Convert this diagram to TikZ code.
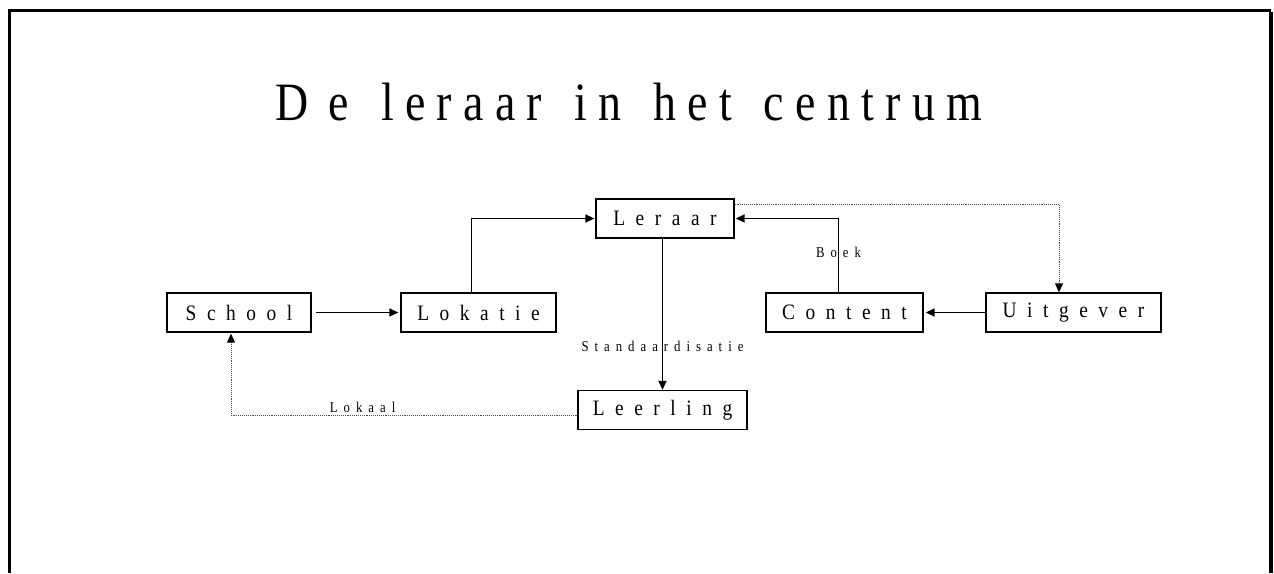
\documentclass[tikz,border=0pt]{standalone}
\usepackage{fontspec}
\setmainfont{Liberation Serif}
\newfontfamily\titelfont[FakeStretch=0.85,LetterSpace=21,WordSpace=1.4]{Liberation Serif}
\newfontfamily\blokfont[FakeStretch=0.88,LetterSpace=48]{Liberation Serif}
\newfontfamily\labelfont[FakeStretch=0.85,LetterSpace=40]{Liberation Serif}
\usetikzlibrary{arrows.meta}

\tikzset{
	blok/.style={draw,line width=1.3pt,inner sep=0pt,minimum height=39pt,
		font=\blokfont\fontsize{22}{26}\selectfont},
	pijl/.style={line width=1.4pt,-{Triangle[length=9pt,width=8pt]}},
	stippel/.style={line width=0.9pt,densely dotted,black!70,
		-{Triangle[length=9pt,width=8pt,color=black,fill=black]}},
	etiket/.style={inner sep=0pt,text=black,font=\labelfont\fontsize{15}{18}\selectfont}
}

\begin{document}
\begin{tikzpicture}[x=1pt,y=-1pt]
	% page size of the slide
	\useasboundingbox (0,0) rectangle (1274,573);
	% slide frame, no bottom edge
	\draw[line width=2.5pt] (9.5,573) -- (9.5,10.5) -- (1270,10.5) -- (1270,573);
	\draw[line width=3pt] (1271.5,12) -- (1271.5,573);
	% title
	\node[anchor=base,inner sep=0pt,font=\titelfont\fontsize{54}{60}\selectfont]
		(titel) at (629,120) {D\kern20pt e leraar in het centrum};
	% the boxes
	\foreach \nm/\x/\y/\w in {School/239/312.5/144, Lokatie/478.5/312.5/155,
		Leraar/665/218.5/138, Content/844.5/312.5/157,
		Uitgever/1073.5/312.5/175, Leerling/662.5/410/169} {
		\node[blok,minimum width=\w pt] (\nm) at (\x,\y) {\nm};
	}
	% solid connectors
	\draw[pijl,shorten <=4pt,shorten >=2pt] (School.east) -- (Lokatie.west);
	\draw[pijl,shorten >=1pt] ([xshift=-7pt]Lokatie.north) |- (Leraar.west);
	\draw[pijl,shorten >=1pt] ([xshift=-6pt]Content.north) |- (Leraar.east)
		node[etiket,pos=0.27] {Boek};
	\draw[pijl,shorten >=2pt] (Uitgever.west) -- (Content.east);
	\draw[pijl] (Leraar.south -| Leerling.north) -- (Leerling.north)
		node[etiket,pos=0.71] {Standaardisatie};
	% dotted connectors
	\draw[stippel] ([yshift=-6.5pt]Leraar.north east) -| ([xshift=-14.5pt]Uitgever.north);
	\draw[stippel,shorten >=1pt] ([yshift=-5pt]Leerling.west) -| ([xshift=-8pt]School.south)
		node[etiket,pos=0.31,above=2pt] {Lokaal};
\end{tikzpicture}
\end{document}
